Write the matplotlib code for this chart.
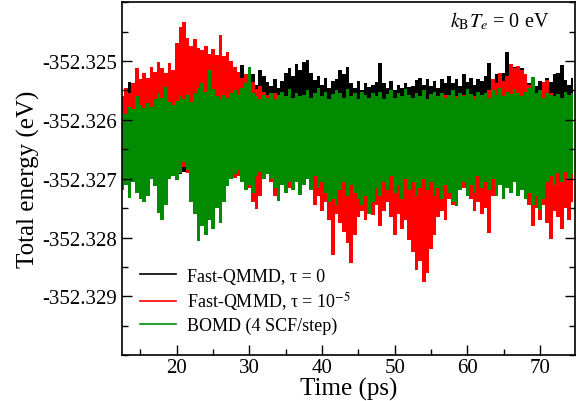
import matplotlib
matplotlib.use("Agg")
import matplotlib.pyplot as plt
import numpy as np
from matplotlib.ticker import MultipleLocator, FormatStrFormatter

plt.rcParams['font.family'] = ['Liberation Serif', 'DejaVu Serif']
plt.rcParams['mathtext.fontset'] = 'stix'
plt.rcParams['axes.unicode_minus'] = False

# Energies: upper / lower envelope of each trace,
# one pair every 0.5 ps, in meV relative to E0
E0 = -352.326
t_start, t_step = 12.5, 0.5

black_hi = [0.35, 0.50, 0.65, 0.58, 0.60, 0.55, 0.62, 0.58, 0.65, 0.60,
            0.62, 0.58, 0.66, 0.60, 0.64, 0.62, 0.68, 0.60, 0.65, 0.62,
            0.60, 0.66, 0.62, 0.58, 0.65, 0.60, 0.66, 0.62, 0.58, 0.64,
            0.62, 0.70, 0.66, 0.93, 0.72, 0.65, 0.78, 0.60, 0.85, 0.75,
            0.65, 0.58, 0.70, 0.55, 0.66, 0.80, 0.88, 0.75, 0.95, 0.85,
            0.98, 1.02, 0.80, 0.68, 0.75, 0.60, 0.72, 0.55, 0.66, 0.70,
            0.85, 0.78, 0.90, 0.62, 0.55, 0.66, 0.50, 0.62, 0.56, 0.60,
            0.65, 0.96, 0.62, 0.55, 0.66, 0.50, 0.60, 0.54, 0.62, 0.56,
            0.58, 0.68, 0.72, 0.60, 0.70, 0.58, 0.66, 0.55, 0.70, 0.62,
            0.75, 0.62, 0.70, 0.58, 0.78, 0.65, 0.72, 0.60, 0.70, 0.66,
            0.75, 0.96, 0.70, 0.78, 0.66, 0.80, 1.16, 0.85, 0.90, 0.82,
            0.88, 0.75, 0.62, 0.70, 0.58, 0.66, 0.60, 0.72, 0.64, 0.78,
            0.80, 0.93, 0.68, 0.60, 0.72]
black_lo = [-0.85, -0.90, -0.88, -0.92, -0.86, -0.90, -0.88, -0.94, -0.96, -0.90,
            -1.07, -1.00, -0.92, -0.88, -0.90, -0.86, -0.92, -0.88, -0.90, -0.86,
            -0.88, -0.92, -0.86, -0.90, -0.88, -0.92, -0.86, -0.90, -0.88, -0.92,
            -0.88, -0.90, -0.86, -0.92, -0.88, -0.90, -0.86, -0.88, -0.90, -0.86,
            -0.88, -0.85, -0.90, -0.87, -0.92, -0.86, -0.89, -0.85, -0.91, -0.88,
            -0.86, -0.90, -0.87, -0.85, -0.92, -0.88, -0.86, -0.90, -0.87, -0.91,
            -0.88, -0.86, -0.90, -0.87, -0.85, -0.91, -0.88, -0.86, -0.92, -0.87,
            -0.90, -0.86, -0.88, -0.91, -0.85, -0.89, -0.87, -0.90, -0.86, -0.88,
            -0.87, -0.91, -0.86, -0.89, -0.85, -0.90, -0.88, -0.86, -0.91, -0.87,
            -0.89, -0.86, -0.90, -0.87, -0.92, -0.85, -0.88, -0.90, -0.86, -0.89,
            -0.87, -0.90, -0.86, -0.88, -0.91, -0.85, -0.89, -0.87, -0.90, -0.86,
            -0.88, -0.91, -0.86, -0.89, -0.87, -0.90, -0.85, -0.88, -0.86, -0.90,
            -0.87, -0.89, -0.86, -0.90, -0.88]

red_hi = [0.40, 0.55, 0.45, 0.62, 0.88, 0.70, 0.80, 0.72, 0.90, 0.82,
          0.98, 0.88, 0.80, 0.96, 0.85, 1.30, 1.58, 1.67, 1.40, 1.25,
          1.38, 1.22, 1.18, 1.25, 1.12, 1.20, 1.10, 1.45, 1.08, 1.15,
          1.00, 0.90, 0.82, 0.72, 0.78, 0.60, 0.65, 0.52, 0.58, 0.48,
          0.42, 0.38, 0.45, 0.35, 0.40, 0.36, 0.42, 0.33, 0.38, 0.35,
          0.30, 0.36, 0.32, 0.38, 0.30, 0.34, 0.28, 0.35, 0.31, 0.36,
          0.30, 0.33, 0.27, 0.35, 0.30, 0.32, 0.28, 0.34, 0.30, 0.36,
          0.32, 0.28, 0.35, 0.30, 0.33, 0.27, 0.34, 0.30, 0.35, 0.31,
          0.33, 0.29, 0.36, 0.30, 0.34, 0.38, 0.32, 0.40, 0.35, 0.42,
          0.38, 0.45, 0.40, 0.36, 0.42, 0.38, 0.44, 0.40, 0.46, 0.42,
          0.45, 0.50, 0.70, 0.62, 0.80, 0.66, 0.75, 0.95, 0.88, 0.92,
          0.85, 0.78, 0.60, 0.48, 0.42, 0.45, 0.65, 0.68, 0.45, 0.40,
          0.42, 0.38, 0.45, 0.40, 0.43]
red_lo = [-0.80, -0.75, -0.85, -0.78, -0.82, -0.76, -0.85, -0.80, -0.78, -0.84,
          -0.80, -0.86, -0.78, -0.82, -0.76, -0.70, -0.85, -0.80, -0.90, -0.85,
          -0.92, -0.88, -0.95, -0.90, -0.98, -0.92, -0.88, -0.95, -0.90, -0.96,
          -0.92, -0.98, -0.95, -1.05, -1.00, -1.15, -1.40, -1.52, -1.30, -0.95,
          -0.88, -1.05, -1.30, -1.20, -1.10, -0.95, -1.15, -0.92, -1.00, -0.95,
          -1.00, -0.95, -1.20, -1.45, -1.30, -1.55, -1.40, -1.70, -2.30, -1.60,
          -1.75, -1.90, -2.10, -2.43, -1.95, -1.65, -1.55, -1.70, -1.50, -1.62,
          -1.45, -1.80, -1.55, -1.40, -1.65, -1.95, -1.60, -1.85, -1.70, -2.05,
          -2.25, -2.55, -2.40, -2.76, -2.60, -2.20, -1.95, -1.65, -1.55, -1.70,
          -1.35, -1.45, -1.10, -1.05, -1.15, -1.08, -1.35, -1.55, -1.40, -1.60,
          -1.50, -1.92, -1.30, -1.05, -0.98, -1.05, -0.95, -1.00, -0.92, -1.00,
          -1.05, -1.20, -1.45, -1.80, -1.50, -1.70, -1.45, -1.75, -2.03, -1.55,
          -1.65, -1.85, -1.50, -1.70, -1.40]

green_hi = [0.15, 0.10, 0.22, 0.18, 0.40, 0.25, 0.20, 0.28, 0.22, 0.35,
            0.45, 0.38, 0.56, 0.30, 0.25, 0.32, 0.40, 0.35, 0.42, 0.30,
            0.45, 0.55, 0.62, 0.48, 0.85, 0.52, 0.40, 0.35, 0.42, 0.38,
            0.45, 0.50, 0.42, 0.55, 0.62, 0.90, 0.45, 0.40, 0.36, 0.42,
            0.38, 0.45, 0.35, 0.42, 0.48, 0.40, 0.52, 0.38, 0.45, 0.40,
            0.42, 0.50, 0.38, 0.46, 0.55, 0.40, 0.48, 0.36, 0.44, 0.50,
            0.45, 0.38, 0.52, 0.40, 0.46, 0.35, 0.48, 0.42, 0.38, 0.45,
            0.40, 0.48, 0.36, 0.44, 0.50, 0.38, 0.46, 0.40, 0.52, 0.42,
            0.38, 0.45, 0.40, 0.50, 0.36, 0.44, 0.48, 0.40, 0.46, 0.38,
            0.42, 0.50, 0.38, 0.46, 0.40, 0.52, 0.44, 0.36, 0.48, 0.42,
            0.45, 0.38, 0.50, 0.42, 0.55, 0.40, 0.48, 0.44, 0.52, 0.46,
            0.40, 0.48, 0.55, 0.73, 0.45, 0.50, 0.38, 0.46, 0.42, 0.40,
            0.44, 0.38, 0.48, 0.42, 0.45]
green_lo = [-1.19, -1.10, -1.32, -1.05, -1.25, -1.35, -1.40, -1.30, -1.00, -1.12,
            -1.58, -1.70, -1.45, -1.00, -0.95, -1.02, -0.90, -0.72, -0.85, -1.40,
            -1.60, -2.06, -1.80, -1.95, -1.70, -1.85, -1.50, -1.75, -1.40, -1.13,
            -1.00, -0.92, -0.85, -1.05, -1.20, -1.10, -1.25, -0.95, -0.88, -1.00,
            -0.92, -1.00, -1.15, -1.38, -1.10, -1.25, -1.05, -1.20, -1.05, -1.27,
            -1.10, -1.00, -1.20, -0.95, -1.15, -1.05, -1.25, -1.40, -1.35, -1.45,
            -1.20, -1.05, -1.30, -1.10, -1.25, -1.35, -1.45, -1.30, -1.60, -1.40,
            -1.15, -1.30, -1.05, -1.20, -0.95, -1.25, -1.10, -1.35, -1.00, -1.20,
            -1.05, -1.30, -1.15, -1.00, -1.20, -1.05, -1.30, -1.15, -1.35, -1.10,
            -1.25, -1.40, -1.47, -1.20, -1.05, -1.30, -1.10, -1.25, -0.95, -1.15,
            -1.05, -1.20, -1.00, -1.30, -1.10, -1.35, -1.15, -1.25, -1.05, -1.30,
            -1.20, -1.35, -1.25, -1.45, -1.30, -1.53, -1.35, -1.05, -0.95, -1.10,
            -0.90, -1.05, -0.88, -1.00, -0.92]

labels = ["Fast-QMMD, \u03c4 = 0", "Fast-QMMD, \u03c4 = 10$^{-5}$", "BOMD (4 SCF/step)"]
colors = ["#000000", "#ff0000", "#008b00"]

fig = plt.figure(figsize=(5.76, 4.02), dpi=100)
ax = fig.add_axes([0.211, 0.114, 0.787, 0.878])

# each trace is drawn as the band its dense oscillation covers, bin by bin
for (hi, lo), c, lab in zip([(black_hi, black_lo), (red_hi, red_lo), (green_hi, green_lo)],
                            colors, labels):
    t = t_start + t_step * np.arange(len(hi))
    ax.fill_between(t, E0 + np.array(lo) / 1000.0, E0 + np.array(hi) / 1000.0,
                    step='mid', color=c, lw=0)
    ax.plot([], [], color=c, lw=1.2, label=lab)

ax.set_xlim(12.4, 74.8)
ax.set_ylim(-352.330, -352.324)
ax.set_yticks([-352.329, -352.328, -352.327, -352.326, -352.325])
ax.yaxis.set_major_formatter(FormatStrFormatter('%.3f'))
ax.yaxis.set_minor_locator(MultipleLocator(0.0005))
ax.xaxis.set_major_locator(MultipleLocator(10))
ax.xaxis.set_minor_locator(MultipleLocator(5))
ax.tick_params(which='both', direction='in', right=True, top=False, labelsize=15, width=1.0)
ax.tick_params(which='major', length=7)
ax.tick_params(which='minor', length=4)
ax.tick_params(axis='x', pad=2)
ax.tick_params(axis='y', pad=3)
for s in ax.spines.values():
    s.set_linewidth(1.2)

ax.set_xlabel("Time (ps)", fontsize=18, labelpad=0)
ax.set_ylabel("Total energy (eV)", fontsize=18, labelpad=2)

ax.text(0.835, 0.947, r"$k_\mathrm{B}T_e$ = 0 eV", transform=ax.transAxes,
        ha='center', va='center', fontsize=14.5)

ax.legend(loc='lower left', bbox_to_anchor=(0.04, 0.06), frameon=False, fontsize=13,
          handlelength=2.0, handletextpad=0.6, borderpad=0, borderaxespad=0,
          labelspacing=0.25)

fig.savefig("out.png", dpi=100)
